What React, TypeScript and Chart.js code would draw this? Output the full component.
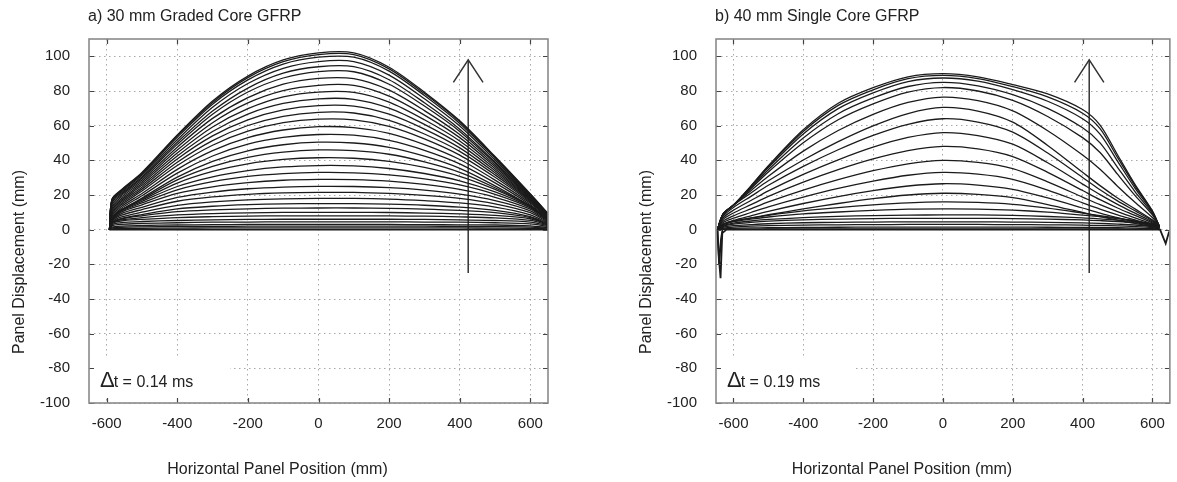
import { useEffect, useRef } from 'react';
import { Chart, registerables } from 'chart.js';

Chart.register(...registerables);

// ---------------- data ----------------
const X_MIN = -650;
const X_MAX = 650;
const Y_MIN = -100;
const Y_MAX = 110;
const X_STEP = 200;
const Y_STEP = 20;

const TITLE_A = 'a) 30 mm Graded Core GFRP';
const TITLE_B = 'b) 40 mm Single Core GFRP';
const X_TITLE = 'Horizontal Panel Position (mm)';
const Y_TITLE = 'Panel Displacement (mm)';
const DT_A = '0.14 ms';
const DT_B = '0.19 ms';

// panel a: horizontal positions of the profile samples (mm)
const positionsA = [-592, -585, -560, -500, -400, -300, -200, -100, 0, 100, 200, 300, 400, 500, 600, 650];
// panel a: displacement profiles (mm), one per time step
const profilesA = [
  [0, 0.5, 0.7, 0.8, 0.9, 1, 1, 1, 1, 1, 1, 1, 1, 0.9, 0.8, 0.4],
  [0, 1, 1.4, 1.6, 1.8, 1.9, 2, 2, 2, 2, 2, 2, 1.9, 1.8, 1.5, 0.8],
  [0, 1.5, 2.1, 2.4, 2.7, 2.9, 3, 3, 3, 3, 3, 2.9, 2.8, 2.7, 2.2, 1.2],
  [0, 2.2, 3.1, 3.6, 4, 4.3, 4.4, 4.5, 4.5, 4.5, 4.5, 4.4, 4.3, 4, 3.3, 1.8],
  [0, 2.9, 4, 4.7, 5.3, 5.7, 5.9, 6, 6, 6, 6, 5.9, 5.6, 5.3, 4.4, 2.3],
  [0, 3.4, 5, 5.9, 7, 7.5, 7.8, 8, 8, 8, 7.9, 7.8, 7.4, 6.8, 5.4, 2.8],
  [0, 3.8, 5.6, 6.9, 8.5, 9.3, 9.7, 10, 10, 10, 9.9, 9.6, 9.1, 8.2, 6.3, 3.1],
  [0, 3.9, 6.1, 8, 10.4, 11.4, 12, 12.4, 12.5, 12.5, 12.3, 11.9, 11.1, 9.8, 7, 3.3],
  [0, 3.8, 6.3, 8.7, 12, 13.5, 14.4, 14.9, 15, 15, 14.7, 14.1, 13, 11.1, 7.5, 3.3],
  [0, 4.3, 7.2, 10.1, 14, 16, 17.2, 17.8, 18, 18, 17.6, 16.7, 15.4, 13, 8.6, 3.8],
  [0, 4.9, 8.2, 11.6, 16.4, 18.9, 20.4, 21.2, 21.5, 21.5, 20.9, 19.8, 18, 14.9, 9.8, 4.3],
  [0, 5.3, 9.1, 12.9, 18.6, 21.7, 23.6, 24.6, 25, 24.9, 24.2, 22.8, 20.5, 16.8, 10.9, 4.8],
  [0, 5.7, 9.9, 14.3, 20.9, 24.7, 27.1, 28.5, 29, 28.9, 28, 26.1, 23.2, 18.7, 11.8, 5.2],
  [0, 6, 10.5, 15.4, 23, 27.7, 30.7, 32.3, 33, 32.8, 31.6, 29.3, 25.8, 20.4, 12.6, 5.6],
  [0, 6.2, 10.9, 16.3, 24.9, 30.5, 34.1, 36.2, 37, 36.8, 35.3, 32.4, 28.2, 21.8, 13.1, 5.8],
  [0, 6.3, 11.2, 17.1, 26.9, 33.6, 38, 40.5, 41.5, 41.2, 39.4, 35.9, 30.8, 23.2, 13.5, 6],
  [0, 6.2, 11.2, 17.7, 28.7, 36.5, 41.7, 44.7, 46, 45.6, 43.5, 39.1, 33.1, 24.2, 13.6, 6],
  [0, 6.1, 11.1, 18.2, 30.3, 39.4, 45.5, 49, 50.5, 50, 47.5, 42.4, 35.4, 25.3, 13.6, 6.1],
  [0, 6.9, 12.1, 19.6, 32.6, 42.5, 49.3, 53.2, 54.9, 54.5, 51.5, 45.8, 38, 27, 14.4, 6.4],
  [0, 7.8, 13.1, 20.9, 34.8, 45.6, 53.1, 57.5, 59.4, 58.9, 55.6, 49.1, 40.5, 28.6, 15.2, 6.8],
  [0, 8.7, 14.1, 22.3, 37, 48.7, 56.8, 61.7, 63.8, 63.4, 59.6, 52.4, 43, 30.2, 15.9, 7.1],
  [0, 9.5, 15, 23.4, 38.9, 51.4, 60.1, 65.4, 67.7, 67.3, 63.1, 55.2, 45.2, 31.6, 16.5, 7.3],
  [0, 10.4, 15.8, 24.5, 40.8, 54.1, 63.4, 69.1, 71.6, 71.3, 66.6, 58, 47.2, 32.8, 17, 7.6],
  [0, 11.3, 16.7, 25.6, 42.5, 56.6, 66.7, 72.8, 75.5, 75.2, 70.1, 60.7, 49.2, 34, 17.4, 7.8],
  [0, 12.3, 17.6, 26.6, 44.2, 59.2, 69.8, 76.6, 79.4, 79.2, 73.6, 63.4, 51.2, 35.2, 17.8, 8],
  [0, 13.3, 18.5, 27.7, 45.9, 61.7, 73.1, 80.2, 83.3, 83.2, 77, 66.1, 53.1, 36.3, 18.2, 8.1],
  [0, 14.3, 19.4, 28.7, 47.6, 64.2, 76.2, 83.9, 87.3, 87.1, 80.5, 68.7, 54.9, 37.3, 18.6, 8.4],
  [0, 15.4, 20.2, 29.7, 49.2, 66.6, 79.4, 87.5, 91.2, 91.1, 83.9, 71.3, 56.7, 38.3, 18.9, 8.5],
  [0, 16.2, 20.9, 30.4, 50.4, 68.4, 81.7, 90.3, 94, 94, 86.5, 73.2, 58, 39, 19, 8.6],
  [0, 16.7, 21.6, 31.4, 51.9, 70.6, 84.3, 93.1, 97, 97, 89.2, 75.5, 59.8, 40.2, 19.6, 8.8],
  [0, 17.1, 22.1, 32.2, 53.3, 72.4, 86.4, 95.5, 99.5, 99.5, 91.5, 77.4, 61.3, 41.2, 20.1, 9],
  [0, 17.3, 22.4, 32.6, 54.1, 73.4, 87.7, 96.9, 101, 101, 92.8, 78.5, 62.2, 41.8, 20.4, 9.2],
  [0, 17.5, 22.7, 33, 54.6, 74.2, 88.6, 97.9, 102, 102, 93.7, 79.3, 62.8, 42.2, 20.6, 9.3],
];
const baseXA = [-592, 650];
const baseYA = [0, 0];

// panel b
const positionsB = [-646, -630, -600, -550, -500, -400, -300, -200, -100, 0, 100, 200, 300, 400, 450, 500, 550, 600, 620];
const profilesB = [
  [0, 0.2, 0.3, 0.3, 0.4, 0.4, 0.5, 0.5, 0.5, 0.5, 0.5, 0.5, 0.5, 0.4, 0.4, 0.4, 0.3, 0.2, 0.1],
  [0, 0.5, 0.8, 1, 1.1, 1.3, 1.4, 1.5, 1.5, 1.5, 1.5, 1.5, 1.4, 1.3, 1.2, 1.1, 0.9, 0.6, 0.3],
  [0, 0.9, 1.5, 2, 2.3, 2.6, 2.8, 2.9, 3, 3, 3, 2.9, 2.8, 2.6, 2.4, 2.2, 1.8, 1.2, 0.6],
  [0, 1.4, 2.3, 2.9, 3.4, 4, 4.2, 4.4, 4.5, 4.5, 4.5, 4.4, 4.2, 3.9, 3.6, 3.2, 2.7, 1.8, 0.9],
  [0, 1.9, 3.2, 4.2, 4.9, 5.7, 6.1, 6.4, 6.5, 6.5, 6.5, 6.4, 6.1, 5.6, 5.2, 4.7, 3.9, 2.6, 1.3],
  [0, 2.3, 3.8, 5, 5.9, 7, 7.7, 8.1, 8.4, 8.5, 8.5, 8.2, 7.6, 6.8, 6.2, 5.5, 4.5, 2.9, 1.5],
  [0, 2.7, 4.6, 6.1, 7.3, 9.1, 10.2, 11.1, 11.8, 12, 11.9, 11.3, 10.1, 8.4, 7.5, 6.4, 5.1, 3.3, 1.6],
  [0, 2.9, 4.8, 6.7, 8.3, 10.8, 12.7, 14.3, 15.5, 16, 15.7, 14.6, 12.4, 9.6, 8.1, 6.6, 5, 3, 1.4],
  [0, 3, 5, 6.8, 8.6, 12, 15.1, 17.9, 20, 21, 20.4, 18.5, 14.5, 9.9, 7.6, 5.5, 3.6, 1.7, 0.6],
  [0, 3.2, 5.3, 8, 10.6, 15.1, 19.1, 22.5, 25.2, 26.5, 25.7, 23.3, 18.3, 12.5, 9.5, 6.9, 4.5, 2.1, 0.8],
  [0, 4, 6.6, 9.9, 13.2, 18.8, 23.8, 28, 31.4, 33, 32, 29, 22.8, 15.5, 11.9, 8.6, 5.6, 2.6, 1],
  [0, 4.8, 8, 12, 16, 22.8, 28.8, 34, 38, 40, 38.8, 35.2, 27.6, 18.8, 14.4, 10.4, 6.8, 3.2, 1.2],
  [0, 5.8, 9.6, 14.4, 19.2, 27.4, 34.6, 40.8, 45.6, 48, 46.6, 42.2, 33.1, 22.6, 17.3, 12.5, 8.2, 3.8, 1.4],
  [0, 6.7, 11.2, 16.8, 22.4, 31.9, 40.3, 47.6, 53.2, 56, 54.3, 49.3, 38.6, 26.3, 20.2, 14.6, 9.5, 4.5, 1.7],
  [0, 7.7, 12.8, 19.2, 25.6, 36.5, 46.1, 54.4, 60.8, 64, 62.1, 56.3, 44.2, 30.1, 23, 16.6, 10.9, 5.1, 1.9],
  [0, 8.5, 14.1, 21.2, 28.2, 40.2, 50.8, 59.9, 67, 70.5, 68.4, 62, 48.6, 33.1, 25.4, 18.3, 12, 5.6, 2.1],
  [0, 8.7, 14.2, 22.5, 30.8, 45.3, 57.2, 66.5, 73.4, 76.5, 74.4, 68.5, 57.1, 43.1, 34.9, 25.1, 15.8, 7, 2.1],
  [0, 8.9, 14.2, 23.6, 33.3, 50.1, 63.4, 72.6, 79.4, 82, 80, 74.6, 65.3, 53.1, 44.5, 32, 19.8, 8.5, 2],
  [0, 8.9, 14.2, 24.2, 34.6, 52.9, 66.9, 76, 82.6, 85, 83, 77.9, 70, 58.8, 50.1, 36, 22, 9.4, 2],
  [0, 9, 14.1, 24.8, 35.8, 55.2, 69.8, 78.9, 85.4, 87.5, 85.7, 80.8, 74.1, 64, 55.1, 39.5, 24, 10.1, 1.8],
  [0, 9, 14, 25, 36.5, 56.7, 71.7, 80.7, 87.1, 89, 87.2, 82.5, 76.6, 67.2, 58.3, 41.7, 25.3, 10.5, 1.8],
  [0, 9, 14, 25.2, 36.9, 57.6, 72.9, 81.9, 88.2, 90, 88.2, 83.7, 78.3, 69.3, 60.3, 43.2, 26.1, 10.8, 1.8],
];
const baseXB = [-646, -641, -637, -632, -620, 0, 622, 630, 638, 648];
const baseYB = [0, -18, -28, -2, 0, 0, 0, -4, -8, -1];
const dipXB = [-646, -641, -636, -630];
const dipYB = [0, -20, -6, 2];

// time arrow (data coordinates)
const arrowXA = 424;
const arrowXB = 419;
const arrowYBottom = -25;
const arrowYTop = 98;
const arrowHeadDY = 13;
const arrowHeadDX = 42;

// key box extent (data coordinates)
const keyRightX = -250;
const keyTopY = -74;
const keyBottomY = -96;

// ---------------- styles ----------------
const FONT = "'Liberation Sans', Arial, Helvetica, sans-serif";
const TEXT = '#222';
const CURVE = '#1b1b1b';
const GRID = '#a8a8a8';
const FRAME = '#8a8a8a';

type Panel = {
  title: string;
  dt: string;
  xs: number[];
  profiles: number[][];
  bases: { xs: number[]; ys: number[] }[];
  arrowX: number;
  yAxisWidth: number;
  padRight: number;
};

function pts(xs: number[], ys: number[]) {
  return xs.map((x, i) => ({ x, y: ys[i] }));
}

function decor(p: Panel) {
  return {
    id: 'decor',
    beforeDatasetsDraw(chart: any) {
      const { ctx } = chart;
      const xs = chart.scales.x;
      const ys = chart.scales.y;
      const a = chart.chartArea;
      ctx.save();
      ctx.fillStyle = '#fff';
      const x1 = xs.getPixelForValue(keyRightX);
      const y1 = ys.getPixelForValue(keyTopY);
      const y2 = ys.getPixelForValue(keyBottomY);
      ctx.fillRect(a.left + 1, y1, x1 - a.left - 1, y2 - y1);
      ctx.restore();
    },
    afterDraw(chart: any) {
      const { ctx } = chart;
      const a = chart.chartArea;
      const xs = chart.scales.x;
      const ys = chart.scales.y;
      ctx.save();
      // inner tick marks
      ctx.strokeStyle = '#444';
      ctx.lineWidth = 1.2;
      ctx.beginPath();
      xs.ticks.forEach((t: any) => {
        const px = Math.round(xs.getPixelForValue(t.value)) + 0.5;
        ctx.moveTo(px, a.top);
        ctx.lineTo(px, a.top + 5);
        ctx.moveTo(px, a.bottom);
        ctx.lineTo(px, a.bottom - 5);
      });
      ys.ticks.forEach((t: any) => {
        const py = Math.round(ys.getPixelForValue(t.value)) + 0.5;
        ctx.moveTo(a.left, py);
        ctx.lineTo(a.left + 5, py);
        ctx.moveTo(a.right, py);
        ctx.lineTo(a.right - 5, py);
      });
      ctx.stroke();
      // frame
      ctx.strokeStyle = FRAME;
      ctx.lineWidth = 1.6;
      ctx.strokeRect(a.left, a.top, a.right - a.left, a.bottom - a.top);

      ctx.fillStyle = TEXT;
      // panel title
      ctx.font = `16px ${FONT}`;
      ctx.textAlign = 'left';
      ctx.textBaseline = 'middle';
      ctx.fillText(p.title, a.left - 1, 17);
      // x title
      ctx.textAlign = 'center';
      ctx.fillText(X_TITLE, (a.left + a.right) / 2 - 41, 470);
      // y title
      ctx.save();
      ctx.translate(a.left - 69, 262);
      ctx.rotate(-Math.PI / 2);
      ctx.fillText(Y_TITLE, 0, 0);
      ctx.restore();
      // delta t key
      ctx.textAlign = 'left';
      ctx.textBaseline = 'alphabetic';
      const kx = a.left + 11;
      const ky = ys.getPixelForValue(-91);
      ctx.font = `22px ${FONT}`;
      ctx.fillText('Δ', kx, ky);
      const w = ctx.measureText('Δ').width;
      ctx.font = `16px ${FONT}`;
      ctx.fillText('t = ' + p.dt, kx + w - 1, ky);
      ctx.restore();
    },
  };
}

function buildConfig(p: Panel): any {
  const datasets: any[] = [];
  p.bases.forEach((b) => {
    datasets.push({
      data: pts(b.xs, b.ys),
      borderColor: CURVE,
      borderWidth: 1.8,
      pointRadius: 0,
      tension: 0,
      fill: false,
    });
  });
  p.profiles.forEach((ys) => {
    datasets.push({
      data: pts(p.xs, ys),
      borderColor: CURVE,
      borderWidth: 1.3,
      pointRadius: 0,
      tension: 0.3,
      fill: false,
    });
  });
  datasets.push({
    data: pts([p.arrowX, p.arrowX], [arrowYBottom, arrowYTop]),
    borderColor: '#333',
    borderWidth: 1.5,
    pointRadius: 0,
    tension: 0,
  });
  datasets.push({
    data: pts(
      [p.arrowX - arrowHeadDX, p.arrowX, p.arrowX + arrowHeadDX],
      [arrowYTop - arrowHeadDY, arrowYTop, arrowYTop - arrowHeadDY]
    ),
    borderColor: '#333',
    borderWidth: 1.5,
    pointRadius: 0,
    tension: 0,
  });

  const tickFont = { family: FONT, size: 15 };
  return {
    type: 'line',
    data: { datasets },
    plugins: [decor(p)],
    options: {
      responsive: false,
      animation: false,
      events: [],
      layout: { padding: { left: 0, right: p.padRight, top: 39, bottom: 0 } },
      plugins: { legend: { display: false }, tooltip: { enabled: false }, title: { display: false } },
      scales: {
        x: {
          type: 'linear',
          min: X_MIN,
          max: X_MAX,
          ticks: { stepSize: X_STEP, includeBounds: false, font: tickFont, color: TEXT, padding: 12, maxRotation: 0 },
          grid: { color: GRID, lineWidth: 1, drawTicks: false },
          border: { display: false, dash: [1.5, 3.5] },
          afterFit: (s: any) => {
            s.height = 79;
          },
        },
        y: {
          type: 'linear',
          min: Y_MIN,
          max: Y_MAX,
          ticks: { stepSize: Y_STEP, includeBounds: false, font: tickFont, color: TEXT, padding: 19 },
          grid: { color: GRID, lineWidth: 1, drawTicks: false },
          border: { display: false, dash: [1.5, 3.5] },
          afterFit: (s: any) => {
            s.width = p.yAxisWidth;
          },
        },
      },
    },
  };
}

const panelA: Panel = {
  title: TITLE_A,
  dt: DT_A,
  xs: positionsA,
  profiles: profilesA,
  bases: [{ xs: baseXA, ys: baseYA }],
  arrowX: arrowXA,
  yAxisWidth: 89,
  padRight: 42,
};

const panelB: Panel = {
  title: TITLE_B,
  dt: DT_B,
  xs: positionsB,
  profiles: profilesB,
  bases: [
    { xs: baseXB, ys: baseYB },
    { xs: dipXB, ys: dipYB },
  ],
  arrowX: arrowXB,
  yAxisWidth: 126,
  padRight: 2,
};

function PanelChart({ panel, width, left }: { panel: Panel; width: number; left: number }) {
  const ref = useRef<HTMLCanvasElement | null>(null);
  useEffect(() => {
    if (!ref.current) return;
    const chart = new Chart(ref.current, buildConfig(panel));
    return () => chart.destroy();
  }, [panel]);
  return (
    <canvas
      ref={ref}
      width={width}
      height={482}
      style={{ position: 'absolute', left, top: 0, width, height: 482, display: 'block' }}
    />
  );
}

export default function App() {
  return (
    <div style={{ position: 'fixed', left: 0, top: 0, width: 1177, height: 482, background: '#fff', overflow: 'hidden' }}>
      <PanelChart panel={panelA} width={590} left={0} />
      <PanelChart panel={panelB} width={587} left={590} />
    </div>
  );
}
